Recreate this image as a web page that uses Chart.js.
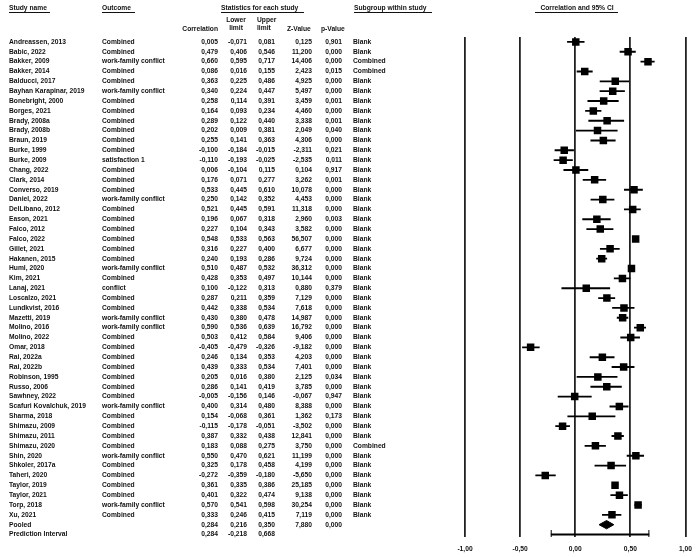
<!DOCTYPE html>
<html><head><meta charset="utf-8">
<script src="https://cdn.jsdelivr.net/npm/chart.js@4.4.1/dist/chart.umd.min.js"></script>
<style>html,body{margin:0;padding:0;background:#fff}#w{width:700px;height:557px;position:relative}</style>
</head><body><div id="w"><canvas id="c" width="700" height="557"></canvas></div>
<script>
const studies = ["Andreassen, 2013","Babic, 2022","Bakker, 2009","Bakker, 2014","Balducci, 2017","Bayhan Karapinar, 2019","Bonebright, 2000","Borges, 2021","Brady, 2008a","Brady, 2008b","Braun, 2019","Burke, 1999","Burke, 2009","Chang, 2022","Clark, 2014","Converso, 2019","Daniel, 2022","DelLibano, 2012","Eason, 2021","Falco, 2012","Falco, 2022","Gillet, 2021","Hakanen, 2015","Huml, 2020","Kim, 2021","Lanaj, 2021","Loscalzo, 2021","Lundkvist, 2016","Mazetti, 2019","Molino, 2016","Molino, 2022","Omar, 2018","Rai, 2022a","Rai, 2022b","Robinson, 1995","Russo, 2006","Sawhney, 2022","Scafuri Kovalchuk, 2019","Sharma, 2018","Shimazu, 2009","Shimazu, 2011","Shimazu, 2020","Shin, 2020","Shkoler, 2017a","Taheri, 2020","Taylor, 2019","Taylor, 2021","Torp, 2018","Xu, 2021"];
const outcomes = ["Combined","Combined","work-family conflict","Combined","Combined","work-family conflict","Combined","Combined","Combined","Combined","Combined","Combined","satisfaction 1","Combined","Combined","Combined","work-family conflict","Combined","Combined","Combined","Combined","Combined","Combined","work-family conflict","Combined","conflict","Combined","Combined","work-family conflict","work-family conflict","Combined","Combined","Combined","Combined","Combined","Combined","Combined","work-family conflict","Combined","Combined","Combined","Combined","work-family conflict","Combined","Combined","Combined","Combined","work-family conflict","Combined"];
const correlation = [0.005,0.479,0.660,0.086,0.363,0.340,0.258,0.164,0.289,0.202,0.255,-0.100,-0.110,0.006,0.176,0.533,0.250,0.521,0.196,0.227,0.548,0.316,0.240,0.510,0.428,0.100,0.287,0.442,0.430,0.590,0.503,-0.405,0.246,0.439,0.205,0.286,-0.005,0.400,0.154,-0.115,0.387,0.183,0.550,0.325,-0.272,0.361,0.401,0.570,0.333];
const lower = [-0.071,0.406,0.595,0.016,0.225,0.224,0.114,0.093,0.122,0.009,0.141,-0.184,-0.193,-0.104,0.071,0.445,0.142,0.445,0.067,0.104,0.533,0.227,0.193,0.487,0.353,-0.122,0.211,0.338,0.380,0.536,0.412,-0.479,0.134,0.333,0.016,0.141,-0.156,0.314,-0.068,-0.178,0.332,0.088,0.470,0.178,-0.359,0.335,0.322,0.541,0.246];
const upper = [0.081,0.546,0.717,0.155,0.486,0.447,0.391,0.234,0.440,0.381,0.363,-0.015,-0.025,0.115,0.277,0.610,0.352,0.591,0.318,0.343,0.563,0.400,0.286,0.532,0.497,0.313,0.359,0.534,0.478,0.639,0.584,-0.326,0.353,0.534,0.380,0.419,0.146,0.480,0.361,-0.051,0.438,0.275,0.621,0.458,-0.180,0.386,0.474,0.598,0.415];
const zValues = [0.125,11.200,14.406,2.423,4.925,5.497,3.459,4.460,3.338,2.049,4.306,-2.311,-2.535,0.104,3.262,10.078,4.453,11.318,2.960,3.582,56.507,6.677,9.724,36.312,10.144,0.880,7.129,7.618,14.987,16.792,9.406,-9.182,4.203,7.401,2.125,3.785,-0.067,8.388,1.362,-3.502,12.841,3.750,11.199,4.199,-5.650,25.185,9.138,30.254,7.119];
const pValues = [0.901,0.000,0.000,0.015,0.000,0.000,0.001,0.000,0.001,0.040,0.000,0.021,0.011,0.917,0.001,0.000,0.000,0.000,0.003,0.000,0.000,0.000,0.000,0.000,0.000,0.379,0.000,0.000,0.000,0.000,0.000,0.000,0.000,0.000,0.034,0.000,0.947,0.000,0.173,0.000,0.000,0.000,0.000,0.000,0.000,0.000,0.000,0.000,0.000];
const subgroups = ["Blank","Blank","Combined","Combined","Blank","Blank","Blank","Blank","Blank","Blank","Blank","Blank","Blank","Blank","Blank","Blank","Blank","Blank","Blank","Blank","Blank","Blank","Blank","Blank","Blank","Blank","Blank","Blank","Blank","Blank","Blank","Blank","Blank","Blank","Blank","Blank","Blank","Blank","Blank","Blank","Blank","Combined","Blank","Blank","Blank","Blank","Blank","Blank","Blank"];
const pooled = {label: "Pooled", est: 0.284, lo: 0.216, hi: 0.350, z: 7.880, p: 0.000};
const predInterval = {label: "Prediction Interval", est: 0.284, lo: -0.218, hi: 0.668};
const xTicks = [-1, -0.5, 0, 0.5, 1];

const FONT = "bold 6.7px 'Liberation Sans', Arial, sans-serif";
const fmt = v => v.toFixed(3).replace('.', ',');
const nS = studies.length;
const rowPooled = nS, rowPI = nS + 1;

const tablePlugin = {
  id: 'table',
  afterDraw(chart) {
    const ctx = chart.ctx, ys = chart.scales.y;
    ctx.save();
    ctx.font = FONT;
    ctx.fillStyle = '#111';
    ctx.textBaseline = 'middle';
    const txt = (s, x, y, align) => { ctx.textAlign = align; ctx.fillText(s, x, y); };
    const under = (x1, x2, y) => { ctx.fillRect(x1, y, x2 - x1, 1); };
    // headers
    txt("Study name", 9, 8, 'left'); under(9, 50, 12);
    txt("Outcome", 102, 8, 'left'); under(102, 135, 12);
    txt("Statistics for each study", 221, 8, 'left'); under(221, 304, 12);
    txt("Subgroup within study", 354, 8, 'left'); under(354, 432, 12);
    txt("Correlation and 95% CI", 577, 8, 'center'); under(535, 618, 12);
    txt("Lower", 236, 20, 'center'); txt("limit", 236, 28.5, 'center');
    txt("Upper", 257, 20, 'left'); txt("limit", 257, 28.5, 'left');
    txt("Correlation", 218, 29, 'right');
    txt("Z-Value", 287, 29, 'left');
    txt("p-Value", 321, 29, 'left');
    for (let i = 0; i < nS; i++) {
      const y = ys.getPixelForValue(i);
      txt(studies[i], 9, y, 'left');
      txt(outcomes[i], 102, y, 'left');
      txt(fmt(correlation[i]), 218, y, 'right');
      txt(fmt(lower[i]), 247, y, 'right');
      txt(fmt(upper[i]), 275, y, 'right');
      txt(fmt(zValues[i]), 312, y, 'right');
      txt(fmt(pValues[i]), 342, y, 'right');
      txt(subgroups[i], 353, y, 'left');
    }
    let y = ys.getPixelForValue(rowPooled);
    txt(pooled.label, 9, y, 'left');
    txt(fmt(pooled.est), 218, y, 'right');
    txt(fmt(pooled.lo), 247, y, 'right');
    txt(fmt(pooled.hi), 275, y, 'right');
    txt(fmt(pooled.z), 312, y, 'right');
    txt(fmt(pooled.p), 342, y, 'right');
    y = ys.getPixelForValue(rowPI);
    txt(predInterval.label, 9, y, 'left');
    txt(fmt(predInterval.est), 218, y, 'right');
    txt(fmt(predInterval.lo), 247, y, 'right');
    txt(fmt(predInterval.hi), 275, y, 'right');
    ctx.restore();
  }
};

const ciData = studies.map((s, i) => ({y: i, x: [lower[i], upper[i]]}));
ciData.push({y: rowPI, x: [predInterval.lo, predInterval.hi]});
const sqData = studies.map((s, i) => ({x: correlation[i], y: i}));
const dH = 0.42;
const diamond = [
  {x: pooled.lo, y: rowPooled}, {x: pooled.est, y: rowPooled - dH},
  {x: pooled.hi, y: rowPooled}, {x: pooled.est, y: rowPooled + dH},
  {x: pooled.lo, y: rowPooled}
];
const caps = [{x: predInterval.lo, y: rowPI}, {x: predInterval.hi, y: rowPI}];

new Chart(document.getElementById('c'), {
  type: 'scatter',
  data: {
    datasets: [
      {type: 'bar', indexAxis: 'y', data: ciData, backgroundColor: '#000', barThickness: 1.2, borderWidth: 0, order: 2},
      {type: 'scatter', data: sqData, pointStyle: 'rect', pointRadius: 5.3, backgroundColor: '#000', borderColor: '#000', borderWidth: 0, order: 1},
      {type: 'line', data: diamond, fill: 'shape', backgroundColor: '#000', borderColor: '#000', borderWidth: 1, pointRadius: 0, tension: 0, order: 1},
      {type: 'scatter', data: caps, pointStyle: 'line', rotation: 90, pointRadius: 4.5, borderColor: '#000', borderWidth: 1, order: 1}
    ]
  },
  options: {
    responsive: false,
    animation: false,
    devicePixelRatio: 1,
    layout: {padding: {left: 465, right: 14, top: 37, bottom: 0}},
    plugins: {legend: {display: false}, tooltip: {enabled: false}},
    scales: {
      x: {
        type: 'linear', min: -1, max: 1, offset: false,
        afterBuildTicks: s => { s.ticks = xTicks.map(v => ({value: v})); },
        afterFit: s => { s.height = 20; },
        ticks: {callback: v => v.toFixed(2).replace('.', ','), color: '#111', padding: 8,
                font: {family: "'Liberation Sans', Arial, sans-serif", size: 6.7, weight: 'bold'}},
        grid: {color: '#222', lineWidth: 1.8, drawTicks: false, offset: false},
        border: {display: false}
      },
      y: {type: 'linear', reverse: true, offset: false, grid: {offset: false}, min: -0.5, max: nS + 1.25, display: false}
    }
  },
  plugins: [tablePlugin]
});
</script>
</body></html>
